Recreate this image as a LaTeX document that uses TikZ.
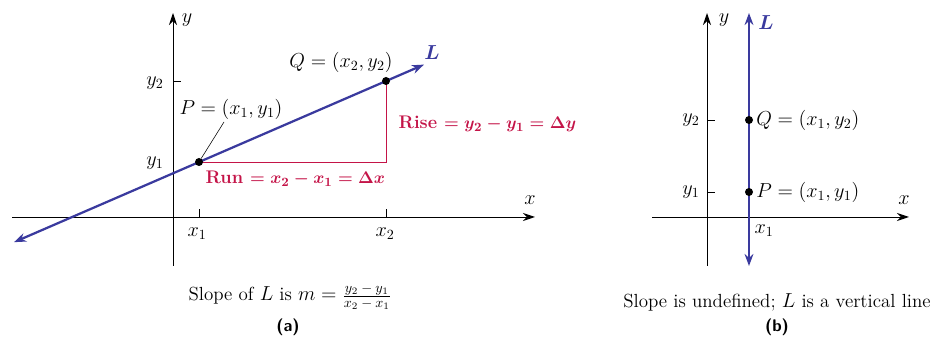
\documentclass[tikz,border=0pt]{standalone}
\usetikzlibrary{arrows.meta,positioning,calc}
\definecolor{lineblue}{RGB}{58,58,158}
\definecolor{slopered}{RGB}{196,20,72}
\newcommand{\lblsize}{\fontsize{14}{16}\selectfont}
\newcommand{\capsize}{\fontsize{13.5}{16}\selectfont}
\newcommand{\fracpart}[1]{\hbox{\fontsize{10}{11}\selectfont$#1$}}
\tikzset{
  axis/.style={-{Stealth[length=3mm,width=2mm]}, line width=.7pt},
  tick/.style={line width=.6pt},
  lline/.style={{Stealth[length=3mm,width=2.2mm]}-{Stealth[length=3mm,width=2.2mm]},
    line width=1.6pt, draw=lineblue},
  ptdot/.style={circle, fill=black, inner sep=0pt, minimum size=2mm},
  lbl/.style={font=\lblsize, inner sep=1pt},
  redlbl/.style={font=\fontsize{13}{15}\selectfont\bfseries\boldmath, text=slopered, inner sep=1pt},
  bluelbl/.style={font=\lblsize\bfseries\boldmath, text=lineblue, inner sep=1pt},
  caption/.style={font=\capsize, inner sep=1pt},
  tag/.style={font=\large\sffamily\bfseries, inner sep=1pt}
}

\begin{document}
\begin{tikzpicture}
  \useasboundingbox (0,0) rectangle (23.8,8.575);

  % (a) line through two points
  \begin{scope}[shift={(4.325,3.15)}]
    \coordinate (o1) at (0,0);
    \coordinate (xa1) at (-4.025,0);
    \coordinate (xb1) at (9.05,0);
    \coordinate (ya1) at (0,-1.225);
    \coordinate (yb1) at (0,5.1);
    \coordinate (p1) at (.65,1.375);
    \coordinate (q1) at (5.325,3.4);
    \coordinate (c1) at (5.325,1.375);
    \coordinate (la1) at (-3.975,-.63);
    \coordinate (lb1) at (6.275,3.81);
    \draw[axis] (xa1) -- (xb1);
    \draw[axis] (ya1) -- (yb1);
    \draw[tick] (p1 |- o1) -- ++(0,.2);
    \draw[tick] (q1 |- o1) -- ++(0,.2);
    \draw[tick] (o1 |- q1) -- ++(.2,0);
    \node[lbl] (xl1) at (8.925,.425) {$x$};
    \node[lbl] (yl1) at (.35,4.925) {$y$};
    \node[lbl] (x1a) at (.6,-.42) {$x_1$};
    \node[lbl] (x2a) at (5.3,-.42) {$x_2$};
    \node[lbl] (y1a) at (-.45,1.35) {$y_1$};
    \node[lbl] (y2a) at (-.45,3.35) {$y_2$};
    \draw[slopered, line width=.7pt] (p1) -- (c1) -- (q1);
    \draw[lline] (la1) -- (lb1);
    \node[ptdot] (pd1) at (p1) {};
    \node[ptdot] (qd1) at (q1) {};
    \node[lbl] (plab1) at (1.45,2.68) {$P = (x_1, y_1)$};
    \coordinate (pp1) at (1.275,2.375);
    \draw[line width=.4pt] (pp1) -- (pd1);
    \node[lbl] (qlab1) at (4.2,3.87) {$Q = (x_2, y_2)$};
    \node[bluelbl] (llab1) at (6.475,4.1) {$L$};
    \node[redlbl] (run1) at (3.06,.95) {Run $= x_2 - x_1 = \Delta x$};
    \node[redlbl, anchor=west] (rise1) at (5.6,2.325) {Rise $= y_2 - y_1 = \Delta y$};
    \node[caption] (cap1) at (2.925,-2.0)
      {Slope of $L$ is $m = \frac{\fracpart{y_2 - y_1}}{\fracpart{x_2 - x_1}}$};
    \node[tag] (tag1) at (2.875,-2.75) {(a)};
  \end{scope}

  % (b) vertical line
  \begin{scope}[shift={(17.675,3.15)}]
    \coordinate (o2) at (0,0);
    \coordinate (xa2) at (-1.375,0);
    \coordinate (xb2) at (5.05,0);
    \coordinate (ya2) at (0,-1.225);
    \coordinate (yb2) at (0,5.1);
    \coordinate (p2) at (1.05,.625);
    \coordinate (q2) at (1.05,2.425);
    \coordinate (la2) at (1.05,-1.225);
    \coordinate (lb2) at (1.05,5.1);
    \draw[axis] (xa2) -- (xb2);
    \draw[axis] (ya2) -- (yb2);
    \draw[tick] (o2 |- p2) -- ++(.2,0);
    \draw[tick] (o2 |- q2) -- ++(.2,0);
    \node[lbl] (xl2) at (4.925,.425) {$x$};
    \node[lbl] (yl2) at (.425,4.925) {$y$};
    \node[lbl] (x1b) at (1.425,-.35) {$x_1$};
    \node[lbl] (y1b) at (-.4,.625) {$y_1$};
    \node[lbl] (y2b) at (-.4,2.425) {$y_2$};
    \draw[lline] (la2) -- (lb2);
    \node[ptdot] (pd2) at (p2) {};
    \node[ptdot] (qd2) at (q2) {};
    \node[lbl, right=1pt of pd2] (plab2) {$P = (x_1, y_1)$};
    \node[lbl, right=1pt of qd2] (qlab2) {$Q = (x_1, y_2)$};
    \node[bluelbl] (llab2) at (1.475,4.85) {$L$};
    \node[caption] (cap2) at (1.75,-2.125) {Slope is undefined; $L$ is a vertical line};
    \node[tag] (tag2) at (1.75,-2.75) {(b)};
  \end{scope}
\end{tikzpicture}
\end{document}
